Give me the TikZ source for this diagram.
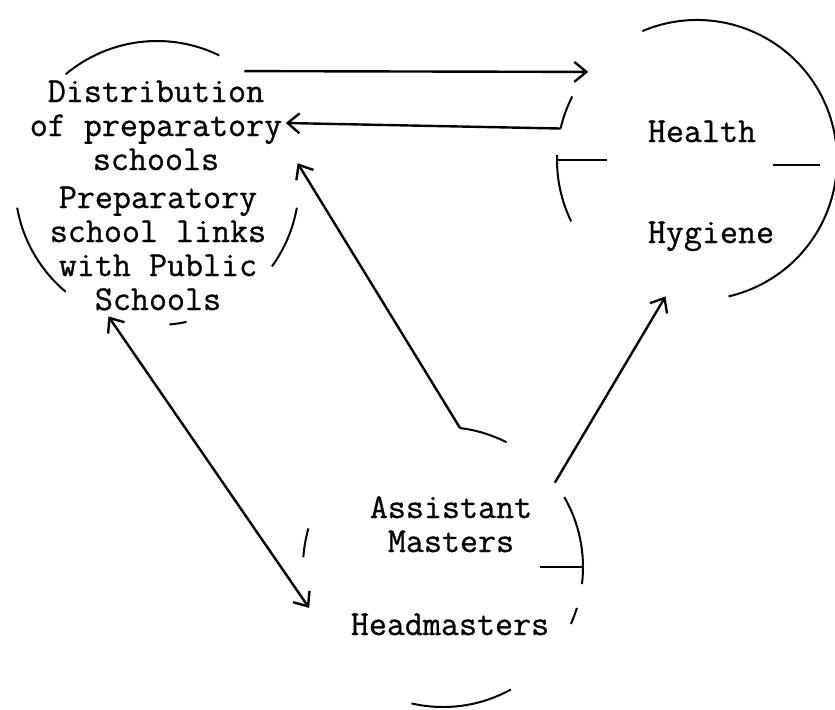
\documentclass[tikz,border=0pt]{standalone}
\usepackage{fontspec}
\newfontfamily\typer{Latin Modern Mono}[FakeBold=0.8]
\usetikzlibrary{arrows.meta}
\tikzstyle{words}=[align=center,inner sep=0pt,anchor=base,font=\fontsize{17.5pt}{17pt}\selectfont\typer]

\begin{document}
\begin{tikzpicture}[x=0.5pt,y=-0.5pt]

\tikzstyle{ring}=[circle,minimum size=140pt,inner sep=0pt,outer sep=0pt]
\tikzstyle{rim}=[line width=1pt]
\tikzstyle{divider}=[line width=0.6pt]
\tikzstyle{arrow}=[-{Straight Barb[length=6pt,width=10pt]},line width=1.2pt]
\tikzstyle{biarrow}=[{Straight Barb[length=6pt,width=10pt]}-{Straight Barb[length=6pt,width=10pt]},line width=1.2pt]

\useasboundingbox (0,0) rectangle (835,709);

% the three rings
\node[ring,minimum size=142pt] (prep) at (157,183) {};
\node[ring] (care) at (697,160) {};
\node[ring] (staff) at (443,567) {};

% texts (base = last line)
\node[words] (dist) at (156,170) {Distribution\\of preparatory\\schools};
\node[words] (links) at (158,310) {Preparatory\\school links\\with Public\\Schools};
\node[words] (health) at (702,142) {Health};
\node[words] (hygiene) at (711,243) {Hygiene};
\node[words] (assist) at (451,552) {Assistant\\Masters};
\node[words] (head) at (450,635) {Headmasters};

% broken outlines
\draw[rim] (prep.130) arc[start angle=130,end angle=64,radius=71pt];
\draw[rim] (prep.190) arc[start angle=190,end angle=230,radius=71pt];
\draw[rim] (prep.-10) arc[start angle=-10,end angle=-36,radius=71pt];
\draw[rim] (prep.-85) arc[start angle=-85,end angle=-78,radius=71pt];

\draw[rim] (care.113) arc[start angle=113,end angle=-77,radius=70pt];
\draw[rim] (care.153) arc[start angle=153,end angle=167,radius=70pt];
\draw[rim] (care.178) arc[start angle=178,end angle=206,radius=70pt];

\draw[rim] (staff.63) arc[start angle=63,end angle=83,radius=70pt];
\draw[rim] (staff.30) arc[start angle=30,end angle=-7,radius=70pt];
\draw[rim] (staff.-17) arc[start angle=-17,end angle=-24,radius=70pt];
\draw[rim] (staff.-103) arc[start angle=-103,end angle=-61,radius=70pt];
\draw[rim] (staff.164) arc[start angle=164,end angle=176,radius=70pt];

% dividers
\draw[divider] (care.180) -- ++(50,0);
\draw[divider] (773,165) -- (820,165);
\draw[divider] (staff.0) -- ++(-43,0);

% links between rings
\draw[arrow] (prep.52) -- (care.141);
\draw[arrow] (care.167) -- (prep.25);
\draw[arrow] (staff.83) -- (prep.8);
\draw[arrow] (staff.37) -- (care.257);
\draw[biarrow] (prep.250) -- (staff.197);
\end{tikzpicture}
\end{document}
